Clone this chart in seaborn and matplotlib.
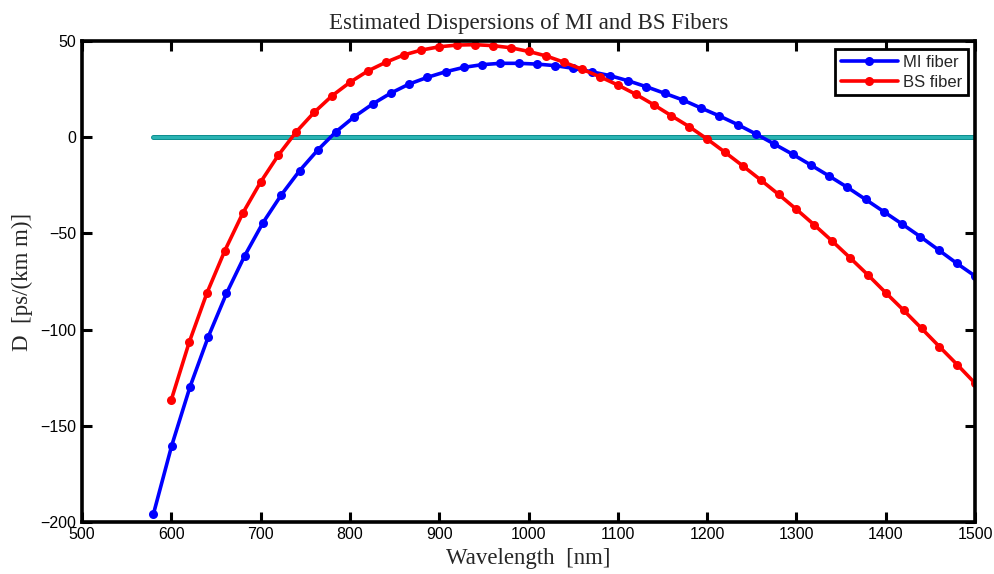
import numpy as np
import pandas as pd
import matplotlib
matplotlib.use("Agg")
import matplotlib.pyplot as plt
import seaborn as sns

# ---- data ----
mi_wavelength = [580.0, 600.4, 620.9, 641.3, 661.8, 682.2, 702.7, 723.1, 743.6, 764.0,
                 784.4, 804.9, 825.3, 845.8, 866.2, 886.7, 907.1, 927.6, 948.0, 968.4,
                 988.9, 1009.3, 1029.8, 1050.2, 1070.7, 1091.1, 1111.6, 1132.0, 1152.4, 1172.9,
                 1193.3, 1213.8, 1234.2, 1254.7, 1275.1, 1295.6, 1316.0, 1336.4, 1356.9, 1377.3,
                 1397.8, 1418.2, 1438.7, 1459.1, 1479.6, 1500.0]
mi_D = [-196.0, -160.5, -129.9, -103.9, -81.2, -61.6, -44.4, -30.0, -17.4, -6.6,
        2.9, 10.7, 17.3, 23.0, 27.7, 31.2, 34.1, 36.4, 37.8, 38.5,
        38.5, 38.1, 37.3, 35.9, 34.1, 32.1, 29.4, 26.3, 22.9, 19.4,
        15.2, 11.1, 6.6, 1.7, -3.5, -8.8, -14.4, -20.1, -26.0, -32.3,
        -38.7, -45.1, -51.7, -58.6, -65.6, -72.2]

bs_wavelength = [600, 620, 640, 660, 680, 700, 720, 740, 760, 780,
                 800, 820, 840, 860, 880, 900, 920, 940, 960, 980,
                 1000, 1020, 1040, 1060, 1080, 1100, 1120, 1140, 1160, 1180,
                 1200, 1220, 1240, 1260, 1280, 1300, 1320, 1340, 1360, 1380,
                 1400, 1420, 1440, 1460, 1480, 1500]
bs_D = [-136.6, -106.7, -80.9, -58.9, -39.5, -23.3, -9.2, 2.9, 13.0, 21.6,
        28.6, 34.5, 39.0, 42.8, 45.4, 47.1, 48.0, 48.2, 47.7, 46.6,
        44.7, 42.3, 39.0, 35.4, 31.5, 27.2, 22.4, 17.0, 11.2, 5.5,
        -0.9, -7.8, -14.9, -22.2, -29.7, -37.5, -45.6, -54.0, -62.7, -71.6,
        -80.9, -90.0, -99.4, -108.9, -118.3, -128.0]

zero_wavelength = [580, 1500]
zero_D = [0, 0]

series_labels = ["MI fiber", "BS fiber"]
x_ticks = [500, 600, 700, 800, 900, 1000, 1100, 1200, 1300, 1400, 1500]
y_ticks = [-200, -150, -100, -50, 0, 50]

title = "Estimated Dispersions of MI and BS Fibers"
xlabel = "Wavelength  [nm]"
ylabel = "D  [ps/(km m)]"

# ---- plot ----
sns.set_theme(style="white")
plt.rcParams['font.family'] = ['Liberation Sans', 'DejaVu Sans']

fig = plt.figure(figsize=(9.95, 5.74), dpi=100)
ax = fig.add_axes([0.0824, 0.0911, 0.8976, 0.8371])

df_mi = pd.DataFrame({"x": mi_wavelength, "y": mi_D})
df_bs = pd.DataFrame({"x": bs_wavelength, "y": bs_D})
df_0 = pd.DataFrame({"x": zero_wavelength, "y": zero_D})

sns.lineplot(data=df_0, x="x", y="y", ax=ax, color="#0f8f8f", lw=3.6,
             legend=False, sort=False, estimator=None)
sns.lineplot(data=df_0, x="x", y="y", ax=ax, color="#2ab3b3", lw=2.2,
             legend=False, sort=False, estimator=None)
sns.lineplot(data=df_mi, x="x", y="y", ax=ax, color="#0000ff", lw=2.6,
             marker="o", markersize=6.5, markeredgewidth=0, label=series_labels[0],
             sort=False, estimator=None)
sns.lineplot(data=df_bs, x="x", y="y", ax=ax, color="#ff0000", lw=2.6,
             marker="o", markersize=6.5, markeredgewidth=0, label=series_labels[1],
             sort=False, estimator=None)

ax.set_xlim(500, 1500)
ax.set_ylim(-200, 50)
ax.set_xticks(x_ticks)
ax.set_yticks(y_ticks)
ax.tick_params(direction="in", length=7, width=2.2, top=True, right=True,
               bottom=True, left=True, labelsize=11.5, colors="black", pad=4)
for sp in ax.spines.values():
    sp.set_visible(True)
    sp.set_color("black")
    sp.set_linewidth(2.6)

serif = ['Liberation Serif', 'DejaVu Serif']
ax.set_title(title, family=serif, fontsize=16.5, pad=9)
ax.set_xlabel(xlabel, family=serif, fontsize=16.5, labelpad=4)
ax.set_ylabel(ylabel, family=serif, fontsize=16.5, labelpad=5)

leg = ax.legend(loc="upper right", fontsize=12, frameon=True, fancybox=False,
                borderaxespad=0.45, handlelength=3.4, borderpad=0.35,
                labelspacing=0.3, handletextpad=0.3)
leg.get_frame().set_edgecolor("black")
leg.get_frame().set_linewidth(2.0)
leg.get_frame().set_alpha(1)

fig.savefig("out.png", dpi=100)
